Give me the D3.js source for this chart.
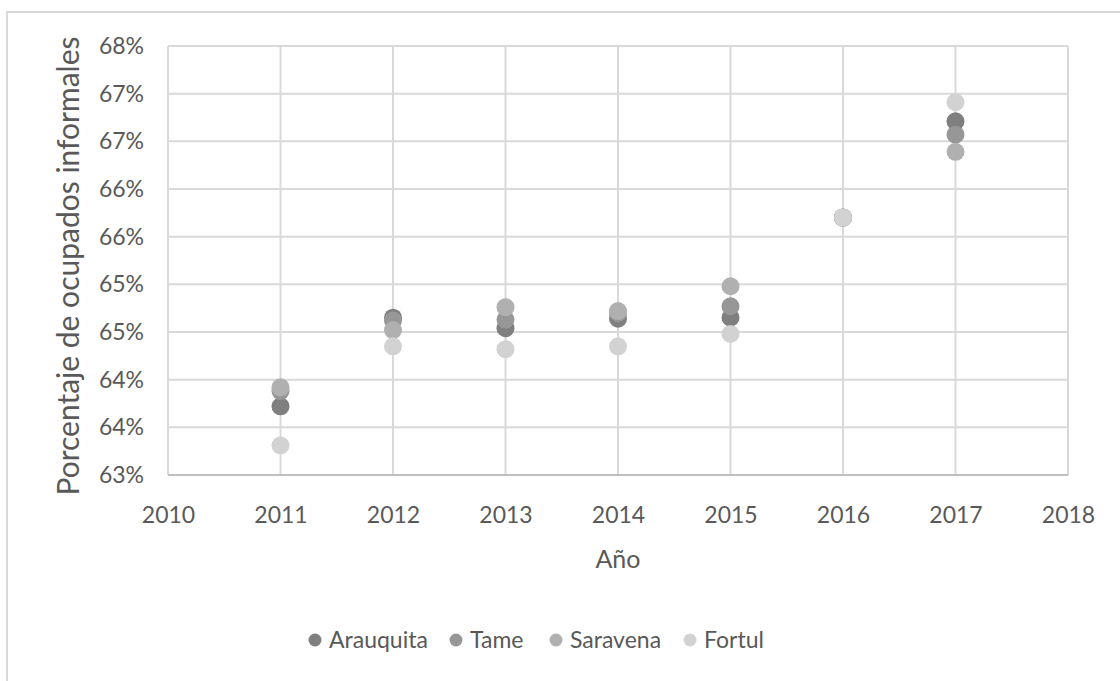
<!DOCTYPE html>
<html>
<head>
<meta charset="utf-8">
<script src="https://cdn.jsdelivr.net/npm/d3@7"></script>
<style>
  body { margin: 0; background: #fff; }
  svg text { font-family: Lato, "Open Sans", sans-serif; fill: #595959; }
</style>
</head>
<body>
<svg width="1120" height="681"></svg>
<script>
const svg = d3.select("svg");

const years = [2011, 2012, 2013, 2014, 2015, 2016, 2017];
const seriesNames = ["Arauquita", "Tame", "Saravena", "Fortul"];
const seriesColors = ["#7f7f7f", "#979797", "#b0b0b0", "#d2d2d2"];

// percentage of informal workers, per series, one value per year
const arauquita = [63.72, 64.65, 64.54, 64.64, 64.65, 65.70, 66.71];
const tame      = [63.88, 64.62, 64.63, 64.70, 64.77, 65.70, 66.57];
const saravena  = [63.92, 64.52, 64.76, 64.72, 64.98, 65.70, 66.39];
const fortul    = [63.31, 64.35, 64.32, 64.35, 64.48, 65.70, 66.91];

const yTicks = [63, 63.5, 64, 64.5, 65, 65.5, 66, 66.5, 67, 67.5];
const xTicks = [2010, 2011, 2012, 2013, 2014, 2015, 2016, 2017, 2018];

const allSeries = [arauquita, tame, saravena, fortul];

// chart frame (only left and top edges show in the picture)
svg.append("rect")
    .attr("x", 7).attr("y", 12)
    .attr("width", 1130).attr("height", 700)
    .attr("fill", "none")
    .attr("stroke", "#d9d9d9")
    .attr("stroke-width", 2);

const plot = { left: 168, top: 46, right: 1068, bottom: 475 };

const x = d3.scaleLinear().domain([2010, 2018]).range([plot.left, plot.right]);
const y = d3.scaleLinear().domain([63, 67.5]).range([plot.bottom, plot.top]);

// gridlines
const grid = svg.append("g");
grid.selectAll(".hgrid").data(yTicks)
    .enter().append("line")
    .attr("x1", plot.left).attr("x2", plot.right)
    .attr("y1", d => y(d)).attr("y2", d => y(d))
    .attr("stroke", "#d9d9d9").attr("stroke-width", 2);
grid.selectAll(".vgrid").data(xTicks)
    .enter().append("line")
    .attr("x1", d => x(d)).attr("x2", d => x(d))
    .attr("y1", plot.top).attr("y2", plot.bottom)
    .attr("stroke", "#d9d9d9").attr("stroke-width", 2);

// axis labels via d3 axes, domain and tick lines hidden
const yAxis = svg.append("g")
    .attr("transform", `translate(${plot.left},0)`)
    .call(d3.axisLeft(y).tickValues(yTicks).tickSize(0).tickPadding(24)
        .tickFormat(d => Math.round(d) + "%"));
yAxis.select(".domain").remove();
yAxis.selectAll("text").style("font-size", "23px").attr("fill", "#595959");

const xAxis = svg.append("g")
    .attr("transform", `translate(0,${plot.bottom})`)
    .call(d3.axisBottom(x).tickValues(xTicks).tickSize(0).tickPadding(32)
        .tickFormat(d3.format("d")));
xAxis.select(".domain").remove();
xAxis.selectAll("text").style("font-size", "23px").attr("fill", "#595959");

// bottom axis line
svg.append("line")
    .attr("x1", plot.left).attr("x2", plot.right)
    .attr("y1", plot.bottom).attr("y2", plot.bottom)
    .attr("stroke", "#bfbfbf").attr("stroke-width", 2);

// points
allSeries.forEach((vals, i) => {
    svg.append("g").selectAll("circle").data(vals)
        .enter().append("circle")
        .attr("cx", (d, j) => x(years[j]))
        .attr("cy", d => y(d))
        .attr("r", 9)
        .attr("fill", seriesColors[i]);
});

// axis titles
svg.append("text")
    .attr("x", (plot.left + plot.right) / 2)
    .attr("y", 568)
    .attr("text-anchor", "middle")
    .style("font-size", "25px")
    .text("Año");

svg.append("text")
    .attr("transform", "translate(79,266) rotate(-90)")
    .attr("text-anchor", "middle")
    .style("font-size", "30px")
    .text("Porcentaje de ocupados informales");

// legend
const legendX = [315, 456, 556, 690];
const legend = svg.append("g");
seriesNames.forEach((name, i) => {
    legend.append("circle")
        .attr("cx", legendX[i]).attr("cy", 640).attr("r", 6.5)
        .attr("fill", seriesColors[i]);
    legend.append("text")
        .attr("x", legendX[i] + 14).attr("y", 648)
        .style("font-size", "23px")
        .text(name);
});
</script>
</body>
</html>
